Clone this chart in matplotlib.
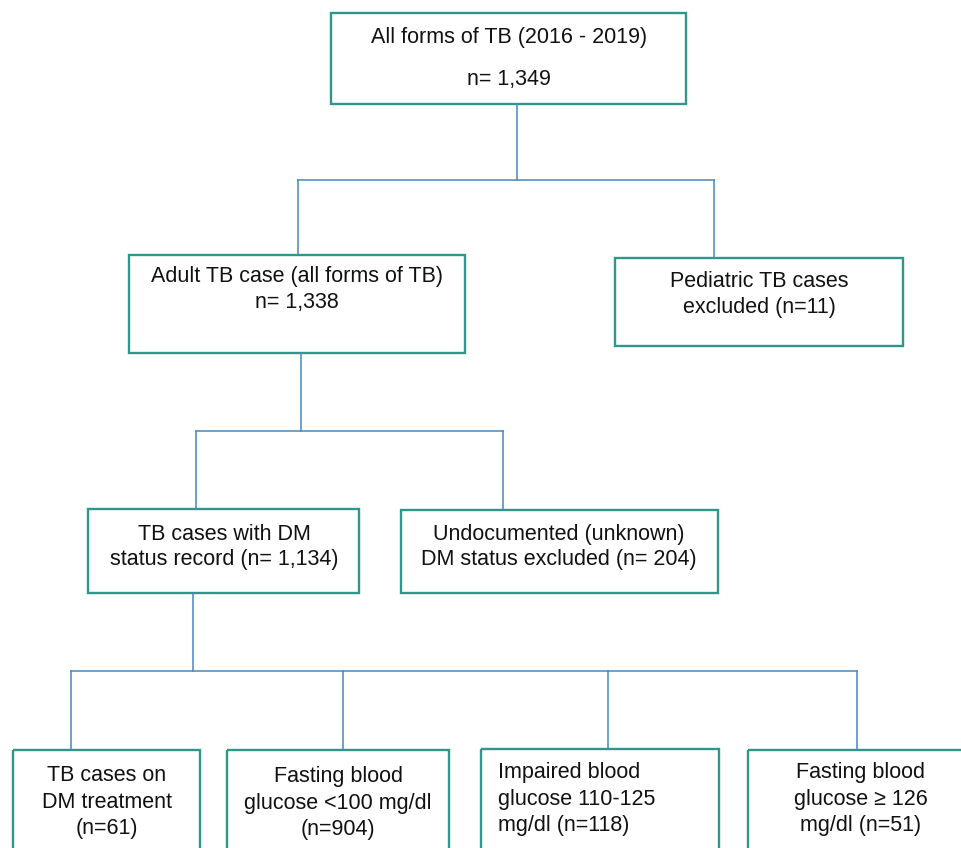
import matplotlib.pyplot as plt
from matplotlib.patches import Rectangle

plt.rcParams['font.family'] = ['Liberation Sans', 'DejaVu Sans']

# box texts, one list of lines per box
labels = [
    ["All forms of TB (2016 - 2019)", "n= 1,349"],
    ["Adult TB case (all forms of TB)", "n= 1,338"],
    ["Pediatric TB cases", "excluded (n=11)"],
    ["TB cases with DM", "status record (n= 1,134)"],
    ["Undocumented (unknown)", "DM status excluded (n= 204)"],
    ["TB cases on", "DM treatment", "(n=61)"],
    ["Fasting blood", "glucose <100 mg/dl", "(n=904)"],
    ["Impaired blood", "glucose 110-125", "mg/dl (n=118)"],
    ["Fasting blood", "glucose \u2265 126", "mg/dl (n=51)"],
]

# box geometry in pixels: x0, y0, x1, y1
boxes = [
    (331, 13, 686, 104),
    (129, 255, 465, 353),
    (615, 258, 903, 346),
    (88, 509, 359, 593),
    (401, 510, 718, 593),
    (13, 750, 200, 860),
    (227, 750, 449, 860),
    (481, 749, 719, 860),
    (748, 750, 975, 860),
]
# text anchor: x, first baseline y, line step, alignment
text_pos = [
    (509, 43, 42, 'center'),
    (297, 282, 26, 'center'),
    (759, 287, 26, 'center'),
    (224, 540, 25.5, 'center'),
    (559, 540, 25.5, 'center'),
    (107, 781, 26.5, 'center'),
    (338, 782, 26.5, 'center'),
    (498, 778, 26.5, 'left'),
    (861, 778, 26.5, 'center'),
]

# connectors: parent x, parent bottom y, bar y, child xs, child top ys
connectors = [
    (517, 104, 180, [298, 714], [255, 258]),
    (301, 353, 431, [196, 503], [509, 510]),
    (193, 593, 671, [71, 343, 608, 857], [750, 750, 749, 750]),
]

box_color = '#2f978a'
line_color = '#4a88b9'

fig = plt.figure(figsize=(9.61, 8.48), dpi=100)
ax = fig.add_axes([0, 0, 1, 1])
ax.set_xlim(0, 961)
ax.set_ylim(848, 0)
ax.axis('off')

for (x0, y0, x1, y1) in boxes:
    ax.add_patch(Rectangle((x0, y0), x1 - x0, y1 - y0, fill=False,
                           edgecolor=box_color, linewidth=1.7))

for lines, (x, y, step, ha) in zip(labels, text_pos):
    for i, t in enumerate(lines):
        ax.text(x, y + i * step, t, ha=ha, va='baseline', fontsize=15.5,
                color='#111111')

for (px, py, by, cxs, cys) in connectors:
    ax.plot([px, px], [py, by], color=line_color, lw=1.1)
    ax.plot([min(cxs), max(cxs)], [by, by], color=line_color, lw=1.1)
    for cx, cy in zip(cxs, cys):
        ax.plot([cx, cx], [by, cy], color=line_color, lw=1.1)

fig.savefig('out.png', dpi=100)
